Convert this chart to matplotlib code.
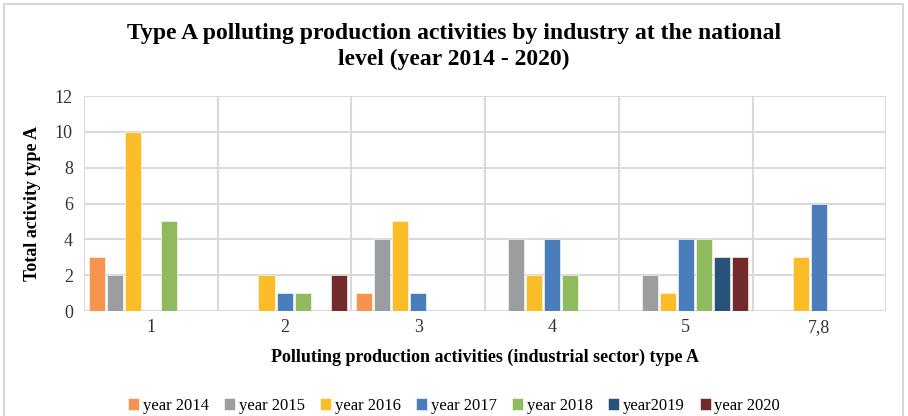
import matplotlib
matplotlib.use("Agg")
import matplotlib.pyplot as plt
import numpy as np
from matplotlib.patches import Rectangle

plt.rcParams['font.family'] = ['Liberation Serif', 'DejaVu Serif']

categories = ["1", "2", "3", "4", "5", "7,8"]
series_names = ["year 2014", "year 2015", "year 2016", "year 2017",
                "year 2018", "year2019", "year 2020"]
y2014 = [3, 0, 1, 0, 0, 0]
y2015 = [2, 0, 4, 4, 2, 0]
y2016 = [10, 2, 5, 2, 1, 3]
y2017 = [0, 1, 1, 4, 4, 6]
y2018 = [5, 1, 0, 2, 4, 0]
y2019 = [0, 0, 0, 0, 3, 0]
y2020 = [0, 2, 0, 0, 3, 0]
series = [y2014, y2015, y2016, y2017, y2018, y2019, y2020]
colors = ["#f4944f", "#9b9ea0", "#fbbc2a", "#4a7ebb",
          "#8fbb5e", "#2a5178", "#722a2b"]

fig = plt.figure(figsize=(9.08, 4.16), dpi=100)
# light frame around the whole chart
fig.patches.append(Rectangle((0.004, -0.02), 0.991, 1.01, transform=fig.transFigure,
                             fill=False, edgecolor="#d0d0d0", linewidth=1.2))

ax = fig.add_axes([0.0925, 0.2524, 0.8835, 0.5166])
x = np.arange(len(categories))
step = 0.135
width = 0.12
for i, (vals, name, c) in enumerate(zip(series, series_names, colors)):
    ax.bar(x + (i - 3) * step, vals, width=width, color=c, label=name,
           edgecolor="white", linewidth=0.4, zorder=3)

ax.set_xlim(-0.5, len(categories) - 0.5)
ax.set_ylim(0, 12)
ax.set_yticks(range(0, 13, 2))
ax.set_xticks(x)
ax.set_xticklabels(categories)
ax.tick_params(axis='both', length=0, labelsize=13, colors="#333333")
ax.tick_params(axis='x', pad=6)
ax.tick_params(axis='y', pad=8)

ax.yaxis.grid(True, color="#d9d9d9", linewidth=1.5, zorder=0)
for b in np.arange(-0.5, len(categories), 1.0):
    ax.axvline(b, color="#d9d9d9", linewidth=1.5, zorder=0)
for s in ax.spines.values():
    s.set_visible(False)
ax.axhline(0, color="#d9d9d9", linewidth=1.5, zorder=1)

ax.set_ylabel("Total activity type A", fontsize=13, fontweight="bold", labelpad=10)
ax.set_xlabel("Polluting production activities (industrial sector) type A",
              fontsize=13, fontweight="bold", labelpad=9)
fig.suptitle("Type A polluting production activities by industry at the national\nlevel (year 2014 - 2020)",
             fontsize=17, fontweight="bold", y=0.945, linespacing=1.3)

fig.legend(loc="center", bbox_to_anchor=(0.5, 0.025), ncol=7, frameon=False,
           fontsize=12, handlelength=0.7, handleheight=0.7, handletextpad=0.2,
           columnspacing=0.9)

fig.savefig("out.png", dpi=100)
